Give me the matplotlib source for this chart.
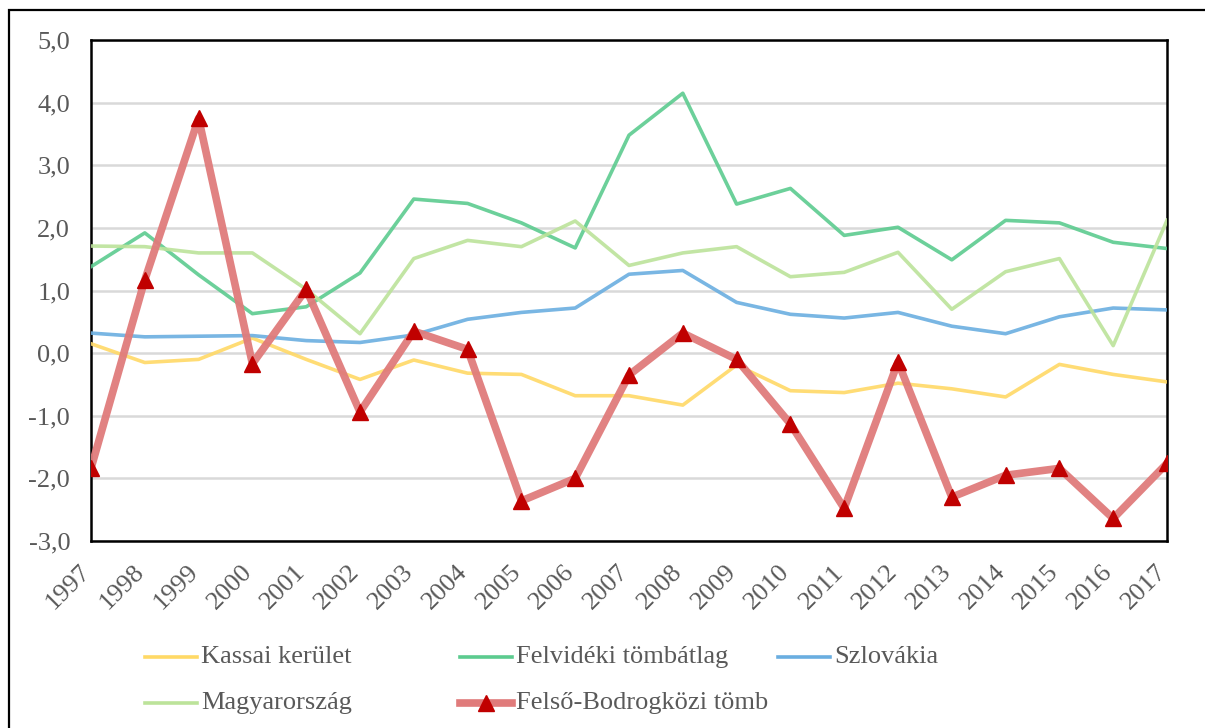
import matplotlib
matplotlib.use("Agg")
import matplotlib.pyplot as plt
import matplotlib.transforms as mtransforms
from matplotlib.lines import Line2D
from matplotlib.patches import Rectangle

years = [str(y) for y in range(1997, 2018)]
kassai = [0.15, -0.15, -0.10, 0.24, -0.10, -0.42, -0.11, -0.32, -0.34, -0.68, -0.68,
          -0.83, -0.19, -0.60, -0.63, -0.48, -0.57, -0.70, -0.18, -0.34, -0.46]
felvideki = [1.38, 1.92, 1.25, 0.63, 0.74, 1.28, 2.46, 2.39, 2.08, 1.68, 3.48,
             4.15, 2.38, 2.63, 1.88, 2.01, 1.49, 2.12, 2.08, 1.77, 1.67]
szlovakia = [0.32, 0.26, 0.27, 0.28, 0.20, 0.17, 0.29, 0.54, 0.65, 0.72, 1.26,
             1.32, 0.81, 0.62, 0.56, 0.65, 0.43, 0.31, 0.58, 0.72, 0.69]
magyar = [1.71, 1.70, 1.60, 1.60, 1.02, 0.31, 1.51, 1.80, 1.70, 2.11, 1.40,
          1.60, 1.70, 1.22, 1.29, 1.61, 0.70, 1.30, 1.51, 0.12, 2.12]
bodrog = [-1.84, 1.17, 3.75, -0.17, 1.02, -0.94, 0.35, 0.06, -2.36, -2.00, -0.35,
          0.32, -0.10, -1.13, -2.48, -0.14, -2.30, -1.95, -1.84, -2.64, -1.76]
yticks = [-3, -2, -1, 0, 1, 2, 3, 4, 5]
labels = ["Kassai kerület", "Felvidéki tömbátlag", "Szlovákia", "Magyarország", "Felső-Bodrogközi tömb"]

W, H = 1205, 728
fig = plt.figure(figsize=(W / 100, H / 100), dpi=100)
plt.rcParams['font.family'] = ['Liberation Serif', 'DejaVu Serif']
ax = fig.add_axes([91 / W, 1 - 541 / H, (1167 - 91) / W, (541 - 40) / H])

# outer frame
fig.patches.append(Rectangle((9 / W, -0.1), 1.2, 1 - 10 / H + 0.1, transform=fig.transFigure,
                             fill=False, edgecolor='black', linewidth=1.6, zorder=0))

x = list(range(len(years)))
c_kassai = '#FFD966'
c_felv = '#5CCB8F'
c_szlo = '#6AAEE0'
c_magy = '#BCE39A'
c_bod_line = '#E07B7B'
c_bod_mk = '#C00000'

ax.plot(x, kassai, color=c_kassai, lw=2.6, zorder=3, alpha=0.9)
ax.plot(x, felvideki, color=c_felv, lw=2.6, zorder=3, alpha=0.9)
ax.plot(x, szlovakia, color=c_szlo, lw=2.6, zorder=3, alpha=0.9)
ax.plot(x, magyar, color=c_magy, lw=2.6, zorder=3, alpha=0.9)
ax.plot(x, bodrog, color=c_bod_line, lw=5.5, zorder=4, alpha=0.95)
ax.plot(x, bodrog, linestyle='none', marker='^', markersize=11, color=c_bod_mk, zorder=5)

ax.set_xlim(0, len(years) - 1)
ax.set_ylim(-3, 5)
ax.set_yticks(yticks)
ax.set_yticklabels([f"{v:.1f}".replace('.', ',') for v in yticks], fontsize=19, color='#595959')
ax.set_xticks(x)
ax.set_xticklabels(years, fontsize=19, color='#595959', rotation=45, ha='right', va='center',
                   rotation_mode='anchor')
ax.tick_params(axis='both', length=0)
ax.tick_params(axis='y', pad=15)
ax.tick_params(axis='x', pad=20)
offset = mtransforms.ScaledTranslation(-4 / 100, 0, fig.dpi_scale_trans)
for lab in ax.get_xticklabels():
    lab.set_transform(lab.get_transform() + offset)
ax.grid(axis='y', color='#D9D9D9', lw=1.8)
ax.set_axisbelow(True)
for s in ax.spines.values():
    s.set_color('black')
    s.set_linewidth(1.8)

# legend drawn manually
colors = [c_kassai, c_felv, c_szlo, c_magy, c_bod_line]
pos = [(145, 657), (460, 657), (778, 657), (145, 703), (460, 703)]
for i, (lab, col, (px, py)) in enumerate(zip(labels, colors, pos)):
    yf = 1 - py / H
    lw = 5.5 if i == 4 else 2.6
    fig.add_artist(Line2D([px / W, (px + 52) / W], [yf, yf], color=col, lw=lw, transform=fig.transFigure))
    if i == 4:
        fig.add_artist(Line2D([(px + 26) / W], [yf], marker='^', markersize=11, color=c_bod_mk,
                              transform=fig.transFigure))
    fig.text((px + 56) / W, yf, lab, fontsize=19, color='#595959', va='center', ha='left')

fig.savefig('out.png', dpi=100)
